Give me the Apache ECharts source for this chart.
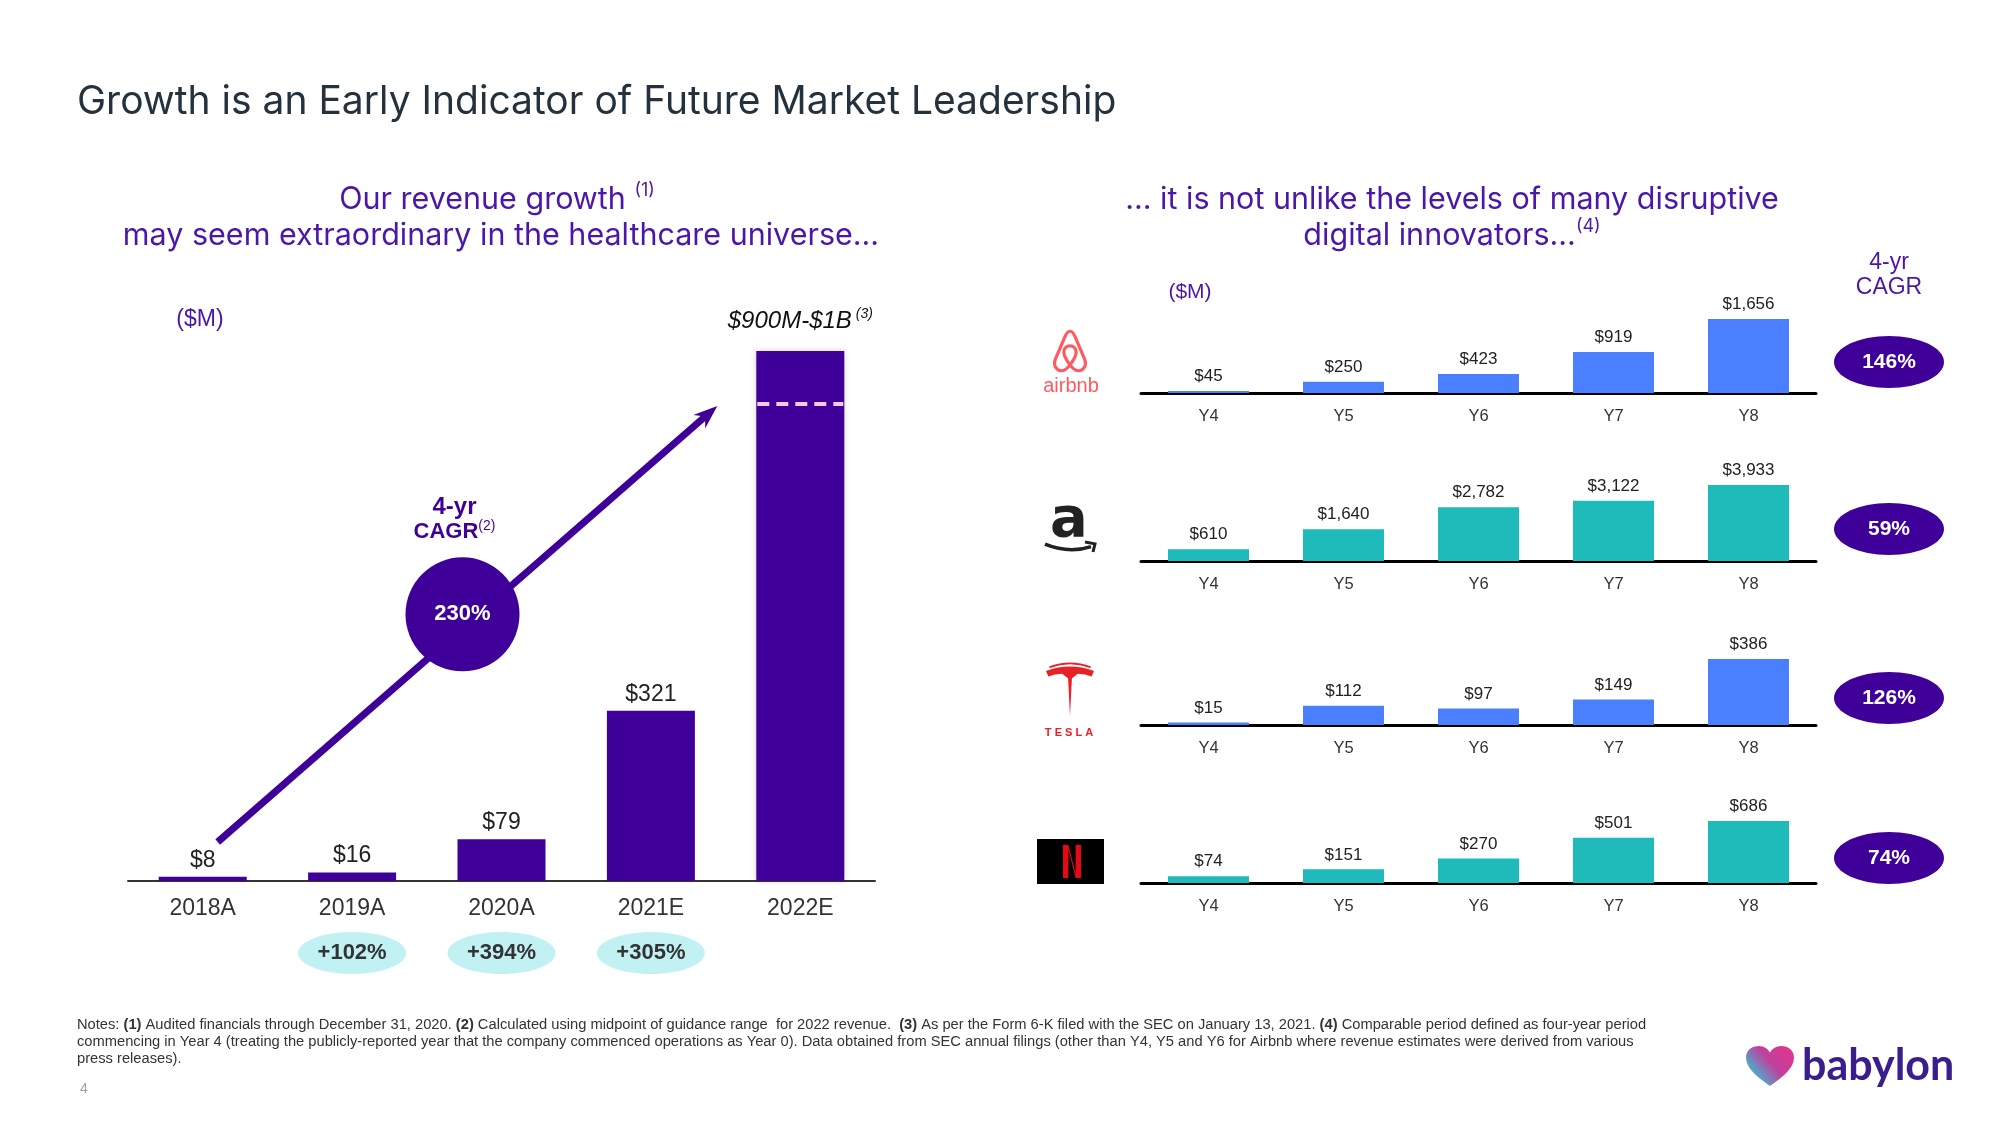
<!DOCTYPE html>
<html><head><meta charset="utf-8">
<script src="https://cdn.jsdelivr.net/npm/echarts@6/dist/echarts.min.js"></script>
<style>html,body{margin:0;padding:0;background:#fff}#c{width:2000px;height:1125px}</style>
</head><body><div id="c"></div>
<script>
// ---- Babylon revenue ----
const years = ['2018A', '2019A', '2020A', '2021E', '2022E'];
const revenue = [8, 16, 79, 321, 1000];          // 2022E drawn to top of guidance range
const revenueLabels = ['$8', '$16', '$79', '$321', '$900M-$1B'];
const guidanceLow = 900;
const yoyGrowth = ['', '+102%', '+394%', '+305%', ''];
const babylonCagr = '230%';

// ---- Peers (Year 4 - Year 8 revenue, $M) ----
const periods = ['Y4', 'Y5', 'Y6', 'Y7', 'Y8'];
const airbnbRev = [45, 250, 423, 919, 1656];
const amazonRev = [610, 1640, 2782, 3122, 3933];
const teslaRev = [15, 112, 97, 149, 386];
const netflixRev = [74, 151, 270, 501, 686];
const peerCagr = ['146%', '59%', '126%', '74%'];

const PURPLE = '#3F0099';
const SUB = '#4B17A8';
const BLUE = '#4A80FF';
const TEAL = '#1FBBBB';
const SANS = 'Liberation Sans, Arial, sans-serif';
const INTER = 'Inter, sans-serif';

const chart = echarts.init(document.getElementById('c'), null, {renderer: 'canvas'});

const peerRows = [
  {data: airbnbRev, color: BLUE, top: 319, height: 74},
  {data: amazonRev, color: TEAL, top: 485, height: 76},
  {data: teslaRev, color: BLUE, top: 659, height: 66},
  {data: netflixRev, color: TEAL, top: 821, height: 62}
];

const grids = [{left: 128, width: 747, top: 351, height: 530}];
const xAxes = [{
  gridIndex: 0, type: 'category', data: years,
  axisTick: {show: false},
  axisLine: {lineStyle: {color: '#333', width: 2}},
  axisLabel: {color: '#333', fontSize: 23, fontFamily: SANS, margin: 16}
}];
const yAxes = [{gridIndex: 0, type: 'value', min: 0, max: 'dataMax', show: false, splitLine: {show: false}}];
const series = [{
  type: 'bar', xAxisIndex: 0, yAxisIndex: 0, barWidth: 88,
  itemStyle: {color: PURPLE},
  data: revenue.map((v, i) => i === 4 ? {
    value: v,
    itemStyle: {shadowBlur: 6, shadowColor: 'rgba(0,0,0,0.18)'},
    label: {
      distance: 16,
      formatter: '{i|' + revenueLabels[i] + '}{s| (3)}',
      rich: {
        i: {fontStyle: 'italic', fontSize: 24, color: '#111', fontFamily: SANS, lineHeight: 28},
        s: {fontStyle: 'italic', fontSize: 14, color: '#111', fontFamily: SANS, lineHeight: 14, verticalAlign: 'top'}
      }
    }
  } : v),
  label: {
    show: true, position: 'top', distance: 5,
    color: '#222', fontSize: 23, fontFamily: SANS,
    formatter: p => revenueLabels[p.dataIndex]
  }
}];

peerRows.forEach((r, k) => {
  const gi = k + 1;
  grids.push({left: 1141, width: 675, top: r.top, height: r.height});
  xAxes.push({
    gridIndex: gi, type: 'category', data: periods,
    axisTick: {show: false},
    axisLine: {lineStyle: {color: '#000', width: 3}},
    axisLabel: {color: '#333', fontSize: 16.5, fontFamily: SANS, margin: 15}
  });
  yAxes.push({gridIndex: gi, type: 'value', min: 0, max: 'dataMax', show: false, splitLine: {show: false}});
  series.push({
    type: 'bar', xAxisIndex: gi, yAxisIndex: gi, barWidth: 81,
    itemStyle: {color: r.color},
    data: r.data,
    label: {
      show: true, position: 'top', distance: 6,
      color: '#222', fontSize: 17, fontFamily: SANS,
      formatter: p => '$' + p.value.toLocaleString('en-US')
    }
  });
});

chart.setOption({
  animation: false,
  backgroundColor: '#fff',
  grid: grids, xAxis: xAxes, yAxis: yAxes, series: series
});

// ---- logo shapes: map a path drawn in a bw x bh box onto a pixel rect ----
function fitPath(d, x, y, w, h, bw, bh) {
  return d.replace(/(-?\d+\.?\d*)\s+(-?\d+\.?\d*)/g,
    (m, a, b) => (x + (+a) / bw * w).toFixed(2) + ' ' + (y + (+b) / bh * h).toFixed(2));
}
function shape(name, d) {
  echarts.graphic.registerShape(name, echarts.graphic.extendPath(d, {}));
}
shape('airbnbLogo', fitPath('M50 3 C44 3 40 8 36 16 L10 68 C2 84 12 98 28 97 C37 96 44 90 50 83 C56 90 63 96 72 97 C88 98 98 84 90 68 L64 16 C60 8 56 3 50 3 Z M50 83 C40 72 33 62 33 53 C33 44 40 38 50 38 C60 38 67 44 67 53 C67 62 60 72 50 83 Z', 1052, 330, 36, 42, 100, 100));
shape('amazonSmile', fitPath('M0 2 Q26 18 50 6', 1045, 543, 46, 11, 50, 18));
shape('amazonArrow', fitPath('M0 0 L10 2 L8 11', 1085, 542, 10, 10, 10, 11));
shape('teslaLogo', fitPath('M0 18 Q50 -2 100 18 L95 30 Q82 24 66 24 Q60 30 54 34 L50 118 L46 34 Q40 30 34 24 Q18 24 5 30 Z M6 8 Q50 -10 94 8 L92 11 Q50 -5 8 11 Z', 1046, 663, 48, 53, 100, 118));
shape('netflixN', fitPath('M0 0 L30 0 L70 86 L70 0 L100 0 L100 100 L70 100 L30 14 L30 100 L0 100 Z', 1063, 845, 18, 33, 100, 100));
shape('babylonHeart', fitPath('M50 90 C20 68 0 48 0 26 C0 10 12 0 27 0 C38 0 46 7 50 15 C54 7 62 0 73 0 C88 0 100 10 100 26 C100 48 80 68 50 90 Z', 1746, 1046, 48, 40, 100, 90));

// ---- annotations positioned from the library's scales ----
const px = (gi, cat, v) => chart.convertToPixel({gridIndex: gi}, [cat, v]);
const g = [];
const txt = (x, y, text, o) => g.push(Object.assign({type: 'text', x: x, y: y, z: 20,
  style: Object.assign({text: text, align: 'center', verticalAlign: 'middle', fill: '#333', fontFamily: SANS, fontSize: 16}, o || {})}));

// Title
txt(77, 102, 'Growth is an Early Indicator of Future Market Leadership',
  {align: 'left', fontFamily: INTER, fontSize: 39, fill: '#24323E'});

// Subtitles
const supRich = {s: {fontSize: 18, fill: SUB, fontFamily: INTER, lineHeight: 18, verticalAlign: 'top'}};
txt(497, 200, 'Our revenue growth {s|(1)}', {fontFamily: INTER, fontSize: 30.5, fill: SUB, lineHeight: 36, rich: supRich});
txt(501, 236, 'may seem extraordinary in the healthcare universe...', {fontFamily: INTER, fontSize: 30.5, fill: SUB});
txt(1452, 200, '... it is not unlike the levels of many disruptive', {fontFamily: INTER, fontSize: 30.5, fill: SUB});
txt(1452, 236, 'digital innovators...{s|(4)}', {fontFamily: INTER, fontSize: 30.5, fill: SUB, lineHeight: 36, rich: supRich});

// units / headers
txt(200, 320, '($M)', {fontSize: 23, fill: SUB});
txt(1190, 292, '($M)', {fontSize: 21, fill: SUB});
txt(1889, 263, '4-yr', {fontSize: 23, fill: SUB});
txt(1889, 288, 'CAGR', {fontSize: 23, fill: SUB});

// Guidance low dashed line on 2022E bar
const gl = px(0, years[4], guidanceLow);
g.push({type: 'line', z: 15, shape: {x1: gl[0] - 43, y1: gl[1], x2: gl[0] + 43, y2: gl[1]},
  style: {stroke: '#F8C8DF', lineWidth: 4, lineDash: [12, 7]}});

// Growth arrow
const p0 = px(0, years[0], 0);
const start = [p0[0] + 15, p0[1] - 39];
const tip = [gl[0] - 83, gl[1] + 2];
const dx = tip[0] - start[0], dy = tip[1] - start[1];
const L = Math.hypot(dx, dy), ux = dx / L, uy = dy / L;
const nx = -uy, ny = ux;
const base = [tip[0] - ux * 24, tip[1] - uy * 24];
g.push({type: 'line', z: 12, shape: {x1: start[0], y1: start[1], x2: tip[0] - ux * 14, y2: tip[1] - uy * 14},
  style: {stroke: PURPLE, lineWidth: 7}});
g.push({type: 'polygon', z: 12, shape: {points: [
  tip,
  [base[0] + nx * 9, base[1] + ny * 9],
  [tip[0] - ux * 16, tip[1] - uy * 16],
  [base[0] - nx * 9, base[1] - ny * 9]
]}, style: {fill: PURPLE}});

// CAGR bubble on arrow
const t = 0.49;
const cc = [start[0] + dx * t, start[1] + dy * t - 14];
g.push({type: 'circle', z: 13, shape: {cx: cc[0], cy: cc[1], r: 57}, style: {fill: PURPLE}});
txt(cc[0], cc[1], babylonCagr, {fontSize: 22, fontWeight: 'bold', fill: '#fff'});
txt(cc[0] - 8, cc[1] - 107, '4-yr', {fontSize: 24, fontWeight: 'bold', fill: PURPLE});
txt(cc[0] - 8, cc[1] - 82, 'CAGR{s|(2)}', {fontSize: 22, fontWeight: 'bold', fill: PURPLE, lineHeight: 26,
  rich: {s: {fontSize: 14, fill: PURPLE, fontFamily: SANS, lineHeight: 14, verticalAlign: 'top'}}});

// YoY growth pills
yoyGrowth.forEach((s, i) => {
  if (!s) return;
  const p = px(0, years[i], 0);
  g.push({type: 'ellipse', z: 10, shape: {cx: p[0], cy: p[1] + 72, rx: 54, ry: 21}, style: {fill: '#C2F1F3'}});
  txt(p[0], p[1] + 72, s, {fontSize: 22, fontWeight: 'bold', fill: '#333'});
});

// Peer CAGR ellipses
peerCagr.forEach((s, k) => {
  const gi = k + 1;
  const yTop = px(gi, periods[0], peerRows[k].data[4])[1];
  const yBot = px(gi, periods[0], 0)[1];
  const cy = (yTop + yBot) / 2 + 6;
  g.push({type: 'ellipse', z: 10, shape: {cx: 1889, cy: cy, rx: 55, ry: 26}, style: {fill: PURPLE}});
  txt(1889, cy, s, {fontSize: 21, fontWeight: 'bold', fill: '#fff'});
});

// ---- Logos (approximations) ----
g.push({type: 'airbnbLogo', z: 10, style: {fill: 'none', stroke: '#FF5A5F', lineWidth: 3.2}});
txt(1071, 386, 'airbnb', {fontSize: 20, fontWeight: 'normal', fill: '#FF5A5F'});
txt(1069, 521, 'a', {fontSize: 56, fontWeight: 'bold', fill: '#222', fontFamily: 'DejaVu Sans, sans-serif'});
g.push({type: 'amazonSmile', z: 10, style: {fill: 'none', stroke: '#222', lineWidth: 3.5}});
g.push({type: 'amazonArrow', z: 10, style: {fill: 'none', stroke: '#222', lineWidth: 3}});
g.push({type: 'teslaLogo', z: 10, style: {fill: '#E82127'}});
txt(1069, 733, 'T E S L A', {fontSize: 11, fontWeight: 'bold', fill: '#E82127'});
g.push({type: 'rect', z: 10, shape: {x: 1037, y: 839, width: 67, height: 45}, style: {fill: '#000'}});
g.push({type: 'netflixN', z: 11, style: {fill: '#E50914'}});

// Notes
const NF = 14.7;
const noteRich = {b: {fontWeight: 'bold', fontSize: NF, fill: '#333', fontFamily: SANS}};
const noteStyle = {align: 'left', fontSize: NF, fill: '#333', rich: noteRich};
txt(77, 1025, 'Notes: {b|(1)} Audited financials through December 31, 2020. {b|(2)} Calculated using midpoint of guidance range  for 2022 revenue.  {b|(3)} As per the Form 6-K filed with the SEC on January 13, 2021. {b|(4)} Comparable period defined as four-year period', noteStyle);
txt(77, 1042, 'commencing in Year 4 (treating the publicly-reported year that the company commenced operations as Year 0). Data obtained from SEC annual filings (other than Y4, Y5 and Y6 for Airbnb where revenue estimates were derived from various', noteStyle);
txt(77, 1059, 'press releases).', noteStyle);
txt(80, 1089, '4', {align: 'left', fontSize: 14, fill: '#9AA3AB'});

// Babylon logo
g.push({type: 'babylonHeart', z: 10, style: {fill: {type: 'linear', x: 1, y: 0, x2: 0, y2: 1, colorStops: [
  {offset: 0, color: '#E8338B'}, {offset: 0.45, color: '#C0409C'},
  {offset: 0.75, color: '#55A3C9'}, {offset: 1, color: '#1DC3DA'}]}}});
txt(1802, 1066, 'babylon', {align: 'left', fontSize: 43, fontWeight: 'bold', fill: '#3B1E8E', fontFamily: 'Lato, sans-serif'});

chart.setOption({graphic: {elements: g}});
</script>
</body></html>
